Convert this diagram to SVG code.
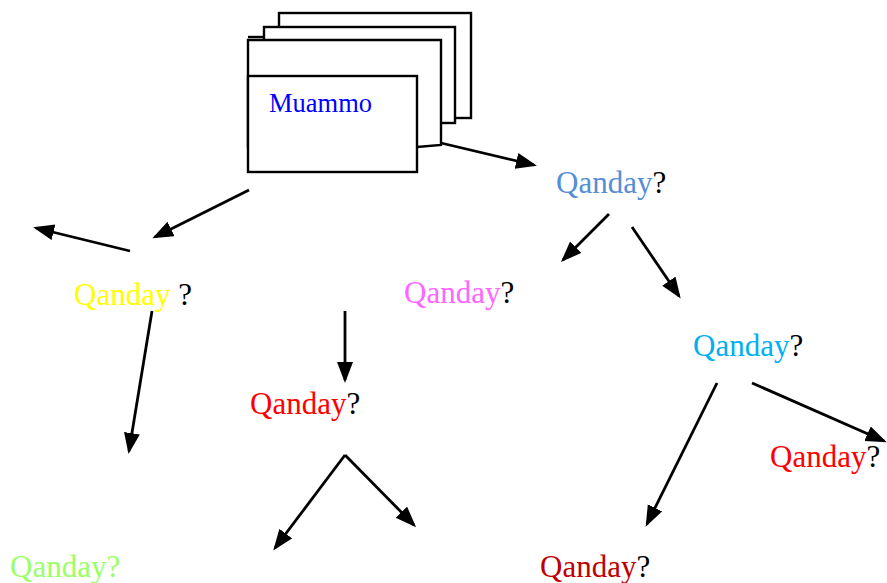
<svg xmlns="http://www.w3.org/2000/svg" width="887" height="583" viewBox="0 0 887 583">
  <style>
    .card { fill: #ffffff; stroke: #000000; stroke-width: 2.4; }
    .link { fill: none; stroke: #000000; stroke-width: 2.8; marker-end: url(#head); }
    .lbl { font-family: "Liberation Serif", "Times New Roman", serif; font-size: 31px; }
    .q { fill: #000000; }
  </style>
  <defs>
    <marker id="head" markerUnits="userSpaceOnUse" markerWidth="24" markerHeight="18" refX="18" refY="8" orient="auto">
      <path d="M0,0 L21,8 L0,16 Z" fill="#000000"/>
    </marker>
  </defs>

  <!-- stacked problem cards -->
  <g id="muammo">
    <rect class="card" x="279" y="13" width="192" height="105"/>
    <rect class="card" x="264" y="27" width="191" height="96"/>
    <line x1="248" y1="37" x2="264" y2="37" stroke="#000" stroke-width="2.4"/>
    <polygon class="card" points="248,40 441,40 441,145 417,147 248,147"/>
    <rect class="card" x="248" y="76" width="169" height="96"/>
    <text x="269" y="112" font-family="Liberation Serif, serif" font-size="26.5" fill="#0000ff">Muammo</text>
  </g>

  <!-- question nodes -->
  <g id="q-blue"><text class="lbl" x="556" y="193"><tspan fill="#558ed5">Qanday</tspan><tspan class="q">?</tspan></text></g>
  <g id="q-yellow"><text class="lbl" x="74" y="305"><tspan fill="#ffff00">Qanday</tspan><tspan class="q"> ?</tspan></text></g>
  <g id="q-pink"><text class="lbl" x="404" y="303"><tspan fill="#ff66ff">Qanday</tspan><tspan class="q">?</tspan></text></g>
  <g id="q-red-mid"><text class="lbl" x="250" y="414"><tspan fill="#ff0000">Qanday</tspan><tspan class="q">?</tspan></text></g>
  <g id="q-cyan"><text class="lbl" x="693" y="356"><tspan fill="#00b0f0">Qanday</tspan><tspan class="q">?</tspan></text></g>
  <g id="q-red-right"><text class="lbl" x="770" y="467"><tspan fill="#ff0000">Qanday</tspan><tspan class="q">?</tspan></text></g>
  <g id="q-green"><text class="lbl" x="10" y="577" fill="#99ff66">Qanday?</text></g>
  <g id="q-darkred"><text class="lbl" x="540" y="577"><tspan fill="#c00000">Qanday</tspan><tspan class="q">?</tspan></text></g>

  <!-- connectors -->
  <g id="connectors">
    <line class="link" x1="441" y1="143" x2="534" y2="165"/>
    <line class="link" x1="249" y1="190" x2="155" y2="237"/>
    <line class="link" x1="130" y1="251" x2="36" y2="228"/>
    <line class="link" x1="152" y1="311" x2="129" y2="451"/>
    <line class="link" x1="345" y1="311" x2="345" y2="380"/>
    <line class="link" x1="345" y1="455" x2="275" y2="548"/>
    <line class="link" x1="345" y1="455" x2="414" y2="525"/>
    <line class="link" x1="609" y1="214" x2="563" y2="260"/>
    <line class="link" x1="632" y1="227" x2="679" y2="296"/>
    <line class="link" x1="717" y1="383" x2="647" y2="524"/>
    <line class="link" x1="752" y1="383" x2="884" y2="441"/>
  </g>
</svg>
